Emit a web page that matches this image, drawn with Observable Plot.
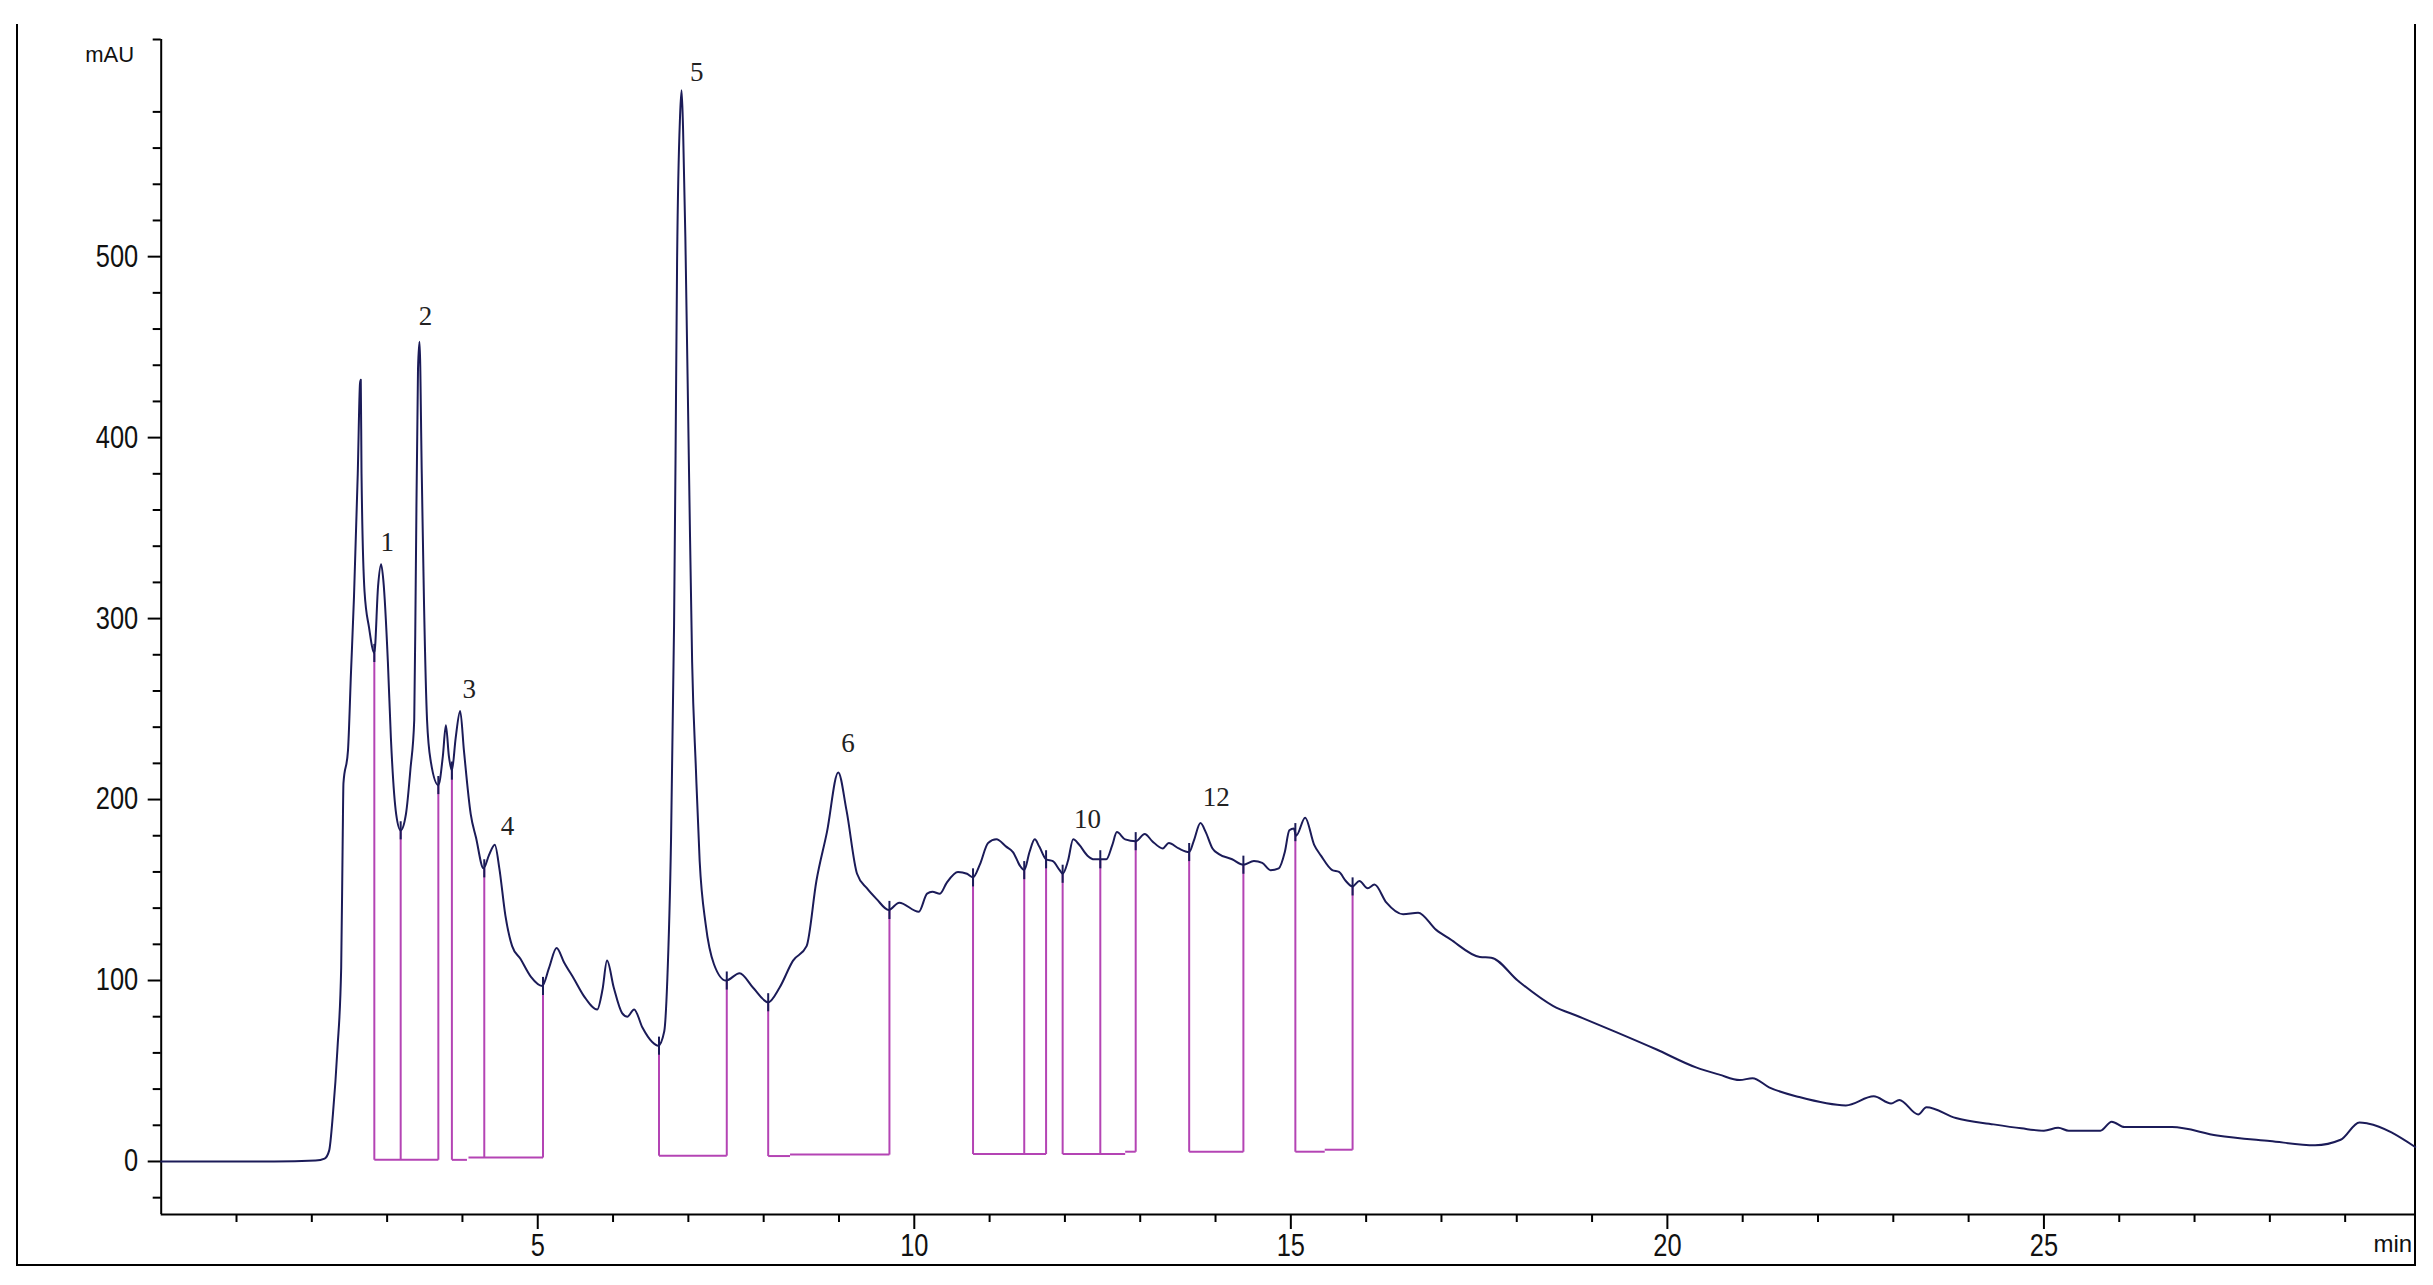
<!DOCTYPE html>
<html>
<head>
<meta charset="utf-8">
<script src="https://cdn.jsdelivr.net/npm/d3@7"></script>
<script src="https://cdn.jsdelivr.net/npm/@observablehq/plot@0.6"></script>
<style>
  html, body { margin: 0; padding: 0; background: #ffffff; }
  #wrap { position: relative; width: 2433px; height: 1285px; overflow: hidden; background: #fff; }
  #border { position: absolute; left: 15.7px; top: 24px; width: 2400px; height: 1242px;
            box-sizing: border-box; border-left: 2px solid #000; border-right: 2px solid #000; border-bottom: 2px solid #000; pointer-events: none; }
</style>
</head>
<body>
<div id="wrap"><div id="border"></div></div>
<script>
// ---- Chromatogram trace (time in min, absorbance in mAU) ----
const traceT = [0, 1.5, 2.05, 2.17, 2.23, 2.28, 2.34, 2.39, 2.41, 2.42, 2.48, 2.52, 2.56, 2.61, 2.64, 2.65, 2.66, 2.70, 2.76, 2.83,
  2.88, 2.92, 2.95, 3.01, 3.05, 3.12, 3.18, 3.25, 3.31, 3.36, 3.38, 3.41, 3.43, 3.46, 3.49, 3.53, 3.58, 3.68, 3.74, 3.78,
  3.82, 3.86, 3.91, 3.97, 4.02, 4.11, 4.18, 4.28, 4.35, 4.43, 4.49, 4.57, 4.66, 4.77, 4.91, 5.06, 5.15, 5.25, 5.35, 5.48,
  5.62, 5.79, 5.86, 5.92, 6.01, 6.12, 6.19, 6.28, 6.39, 6.52, 6.60, 6.68, 6.72, 6.77, 6.81, 6.83, 6.85, 6.89, 6.91, 6.93,
  6.96, 7.01, 7.05, 7.10, 7.15, 7.23, 7.34, 7.50, 7.68, 7.86, 8.06, 8.21, 8.39, 8.57, 8.70, 8.84, 8.99, 9.10, 9.24, 9.37,
  9.50, 9.66, 9.80, 10.06, 10.17, 10.24, 10.34, 10.43, 10.58, 10.70, 10.78, 10.87, 10.98, 11.09, 11.22, 11.31, 11.41, 11.46, 11.53, 11.60,
  11.66, 11.75, 11.84, 11.93, 11.97, 12.04, 12.11, 12.19, 12.30, 12.39, 12.47, 12.55, 12.63, 12.69, 12.80, 12.94, 13.06, 13.16, 13.30, 13.38,
  13.51, 13.65, 13.71, 13.80, 13.87, 13.96, 14.04, 14.22, 14.37, 14.51, 14.62, 14.73, 14.84, 14.92, 14.98, 15.04, 15.07, 15.19, 15.31, 15.40,
  15.55, 15.64, 15.73, 15.82, 15.91, 16.02, 16.11, 16.27, 16.49, 16.69, 16.93, 17.11, 17.51, 17.66, 18.02, 18.48, 18.83, 19.32, 19.85, 20.38,
  20.69, 20.96, 21.13, 21.35, 21.75, 22.37, 22.74, 22.97, 23.08, 23.33, 23.44, 23.83, 24.33, 24.70, 25.00, 25.19, 25.33, 25.75, 25.90, 26.07,
  26.70, 27.30, 28.00, 28.60, 28.94, 29.19, 29.30, 29.93];
const traceV = [0, 0, 0.5, 1.6, 6, 26, 62, 107, 178, 209, 227, 270, 312, 380, 430, 432, 380, 315, 295, 281,
  318, 330, 321, 276, 234, 192, 183, 192, 217, 244, 321, 438, 453, 380, 308, 244, 221, 208, 224, 241,
  224, 216, 234, 249, 227, 192, 179, 162, 169, 175, 162, 136, 119, 112, 102, 97, 107, 118, 110, 101,
  91, 84, 95, 111, 96, 82, 80, 84, 74, 66, 64, 72, 100, 178, 296, 390, 496, 578, 592, 570,
  511, 378, 276, 217, 166, 131, 109, 100, 104, 96, 88, 96, 111, 119, 155, 182, 215, 194, 159, 151,
  145, 139, 143, 138, 148, 149, 148, 154, 160, 159, 157, 164, 176, 178, 174, 171, 163, 161, 171, 178,
  174, 167, 166, 161, 159, 166, 178, 175, 169, 167, 167, 167, 175, 182, 178, 177, 181, 177, 173, 176,
  173, 171, 177, 187, 182, 173, 170, 167, 164, 166, 165, 161, 162, 171, 183, 184, 180, 190, 175, 169,
  161, 160, 155, 152, 155, 151, 153, 143, 136.6, 137.5, 128, 123, 113, 112.6, 99.7, 86, 80, 71.5, 62, 52,
  48, 45, 46, 41, 35.6, 31, 36, 32, 34, 26, 30, 24, 20.5, 18.3, 17, 18.6, 17, 17, 22, 19,
  19, 14.4, 11.3, 9, 12, 21.6, 21, 8];

// ---- Integration drop lines (time, signal at curve, baseline level) ----
const dropT   = [2.83, 3.18, 3.68, 3.86, 4.29, 5.07, 6.61, 7.51, 8.06, 9.67, 10.78, 11.46, 11.75, 11.97, 12.47, 12.94, 13.65, 14.37, 15.06, 15.82];
const dropTop = [281, 183, 208, 216, 162, 97, 64, 100, 88, 139, 157, 161, 167, 159, 167, 177, 171, 164, 182, 152];
const dropBase = [1, 1, 1, 0.9, 2.2, 2.2, 3.2, 3.2, 3.0, 3.8, 4.1, 4.1, 4.1, 4.1, 4.1, 5.4, 5.4, 5.4, 5.4, 6.5];

// ---- Integration baselines (start, end, level) ----
const baseStart = [2.83, 3.86, 4.08, 6.61, 8.06, 8.35, 10.78, 11.97, 12.80, 13.65, 15.06, 15.45];
const baseEnd   = [3.68, 4.06, 5.07, 7.51, 8.35, 9.67, 11.75, 12.80, 12.94, 14.37, 15.45, 15.82];
const baseLevel = [1, 0.9, 2.2, 3.2, 3.0, 3.8, 4.1, 4.1, 5.4, 5.4, 5.4, 6.5];

// ---- Peak labels ----
const peakText = ["1", "2", "3", "4", "5", "6", "10", "12"];
const peakT    = [3.00, 3.51, 4.09, 4.60, 7.11, 9.12, 12.30, 14.01];
const peakV    = [342, 467, 261, 185, 602, 231, 189, 201];

// ---- Axis ticks ----
const xMajor = [5, 10, 15, 20, 25];
const xMinor = d3.range(1, 30).filter(d => d % 5 !== 0);
const yMajor = [0, 100, 200, 300, 400, 500];
const yMinor = d3.range(-20, 621, 20).filter(d => d % 100 !== 0);
const xDomain = [0, 29.93];
const yDomain = [-29.3, 620];

const trace = traceT.map((t, i) => ({t, v: traceV[i]}));
const drops = dropT.map((t, i) => ({t, top: dropTop[i], base: dropBase[i]}));
const bases = baseStart.map((s, i) => ({s, e: baseEnd[i], l: baseLevel[i]}));
const peaks = peakText.map((text, i) => ({text, t: peakT[i], v: peakV[i]}));

const navy = "#1b1b58";
const magenta = "#b444b4";
const sans = "Liberation Sans";

const chart = Plot.plot({
  width: 2433,
  height: 1285,
  marginLeft: 160.7,
  marginRight: 18.3,
  marginTop: 39,
  marginBottom: 71,
  x: {domain: xDomain, label: null},
  y: {domain: yDomain, label: null},
  style: {background: "transparent", color: "#000", fontFamily: sans},
  marks: [
    Plot.axisX(xMinor, {tickSize: 8, tickFormat: () => "", strokeWidth: 2}),
    Plot.axisX(xMajor, {tickSize: 15, tickPadding: 4, strokeWidth: 2, fontSize: 31, fontFamily: sans, fill: "#111", tickFormat: d => String(d)}),
    Plot.axisY(yMinor, {tickSize: 8, tickFormat: () => "", strokeWidth: 2}),
    Plot.axisY(yMajor, {tickSize: 13, tickPadding: 10, strokeWidth: 2, fontSize: 31, fontFamily: sans, fill: "#111", tickFormat: d => String(d)}),
    Plot.ruleX([0], {stroke: "#000", strokeWidth: 2}),
    Plot.ruleY([yDomain[0]], {stroke: "#000", strokeWidth: 2}),
    Plot.link(bases, {x1: "s", x2: "e", y1: "l", y2: "l", stroke: magenta, strokeWidth: 2}),
    Plot.link(drops, {x1: "t", x2: "t", y1: "base", y2: "top", stroke: magenta, strokeWidth: 2}),
    Plot.line(trace, {x: "t", y: "v", stroke: navy, strokeWidth: 2, curve: "monotone-x"}),
    Plot.link(drops, {x1: "t", x2: "t", y1: d => d.top - 5, y2: d => d.top + 5, stroke: navy, strokeWidth: 2}),
    Plot.text(peaks, {x: "t", y: "v", text: "text", fontFamily: "Liberation Serif", fontSize: 27, fill: "#222"}),
    Plot.text(["mAU"], {frameAnchor: "top-left", dx: -51.5, dy: 15.7, lineAnchor: "middle", textAnchor: "middle", fontSize: 22, fontFamily: sans, fill: "#111"}),
    Plot.text(["min"], {frameAnchor: "bottom-right", dx: -3, dy: 30, lineAnchor: "middle", textAnchor: "end", fontSize: 24, fontFamily: sans, fill: "#111"})
  ]
});
chart.style.position = "absolute";
chart.style.left = "0px";
chart.style.top = "0px";
document.getElementById("wrap").appendChild(chart);

// Narrow (condensed) look for the axis tick numbers, keeping them as real text
chart.querySelectorAll("text").forEach(el => {
  const g = el.closest("g");
  const fs = g ? g.getAttribute("font-size") : null;
  if (/^\d+$/.test(el.textContent.trim()) && fs === "31") {
    const len = el.getComputedTextLength();
    if (len > 0) {
      el.setAttribute("textLength", (len * 0.82).toFixed(2));
      el.setAttribute("lengthAdjust", "spacingAndGlyphs");
    }
  }
});
</script>
</body>
</html>
